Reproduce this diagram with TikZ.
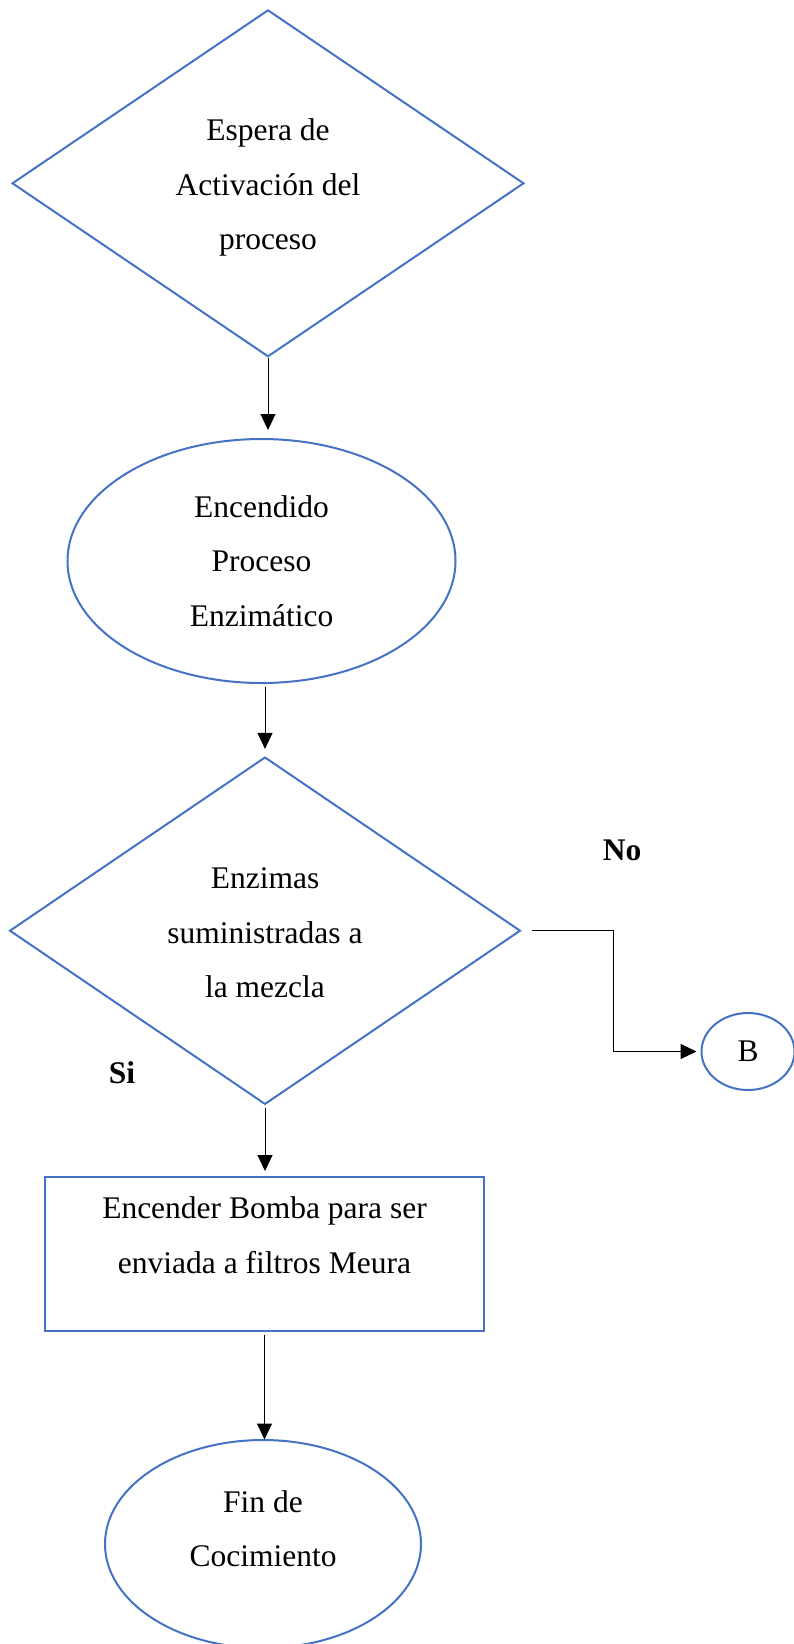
\documentclass[tikz,border=0pt]{standalone}
\usepackage{fontspec}
\setmainfont{Liberation Serif}
\usetikzlibrary{shapes.geometric,arrows.meta}
\definecolor{wordblue}{HTML}{4472C4}
\begin{document}
\begin{tikzpicture}[x=1pt,y=-1pt,
  shapeline/.style={draw=wordblue,line width=2pt,inner sep=0pt,outer sep=0pt,
    font=\fontsize{31.5}{54.5}\selectfont,align=center},
  txt/.style={font=\fontsize{31.5}{54.5}\selectfont,align=center,inner sep=0pt},
  lbl/.style={font=\fontsize{31.5}{38}\selectfont\bfseries,anchor=base,inner sep=0pt},
  arr/.style={draw=black,line width=1pt,-{Triangle[length=16pt,width=15pt]}}]
\useasboundingbox (0,0) rectangle (793,1644);

% shapes
\node[shapeline,diamond,minimum width=511pt,minimum height=346pt] (d1) at (268,183.3) {};
\node[txt] (d1t) at (268,187.5) {Espera de\\Activación del\\proceso};
\node[shapeline,ellipse,minimum width=388pt,minimum height=244pt] (e1) at (261.5,561)
  {Encendido\\Proceso\\Enzimático};
\node[shapeline,diamond,minimum width=510pt,minimum height=346.5pt] (d2) at (265,930.7) {};
\node[txt] (d2t) at (265,933) {Enzimas\\suministradas a\\la mezcla};
\node[shapeline,rectangle,minimum width=439pt,minimum height=154pt] (r) at (264.5,1253.5) {};
\node[txt] (rt) at (264.5,1235) {Encender Bomba para ser\\enviada a filtros Meura};
\node[shapeline,ellipse,minimum width=316pt,minimum height=208pt] (e2) at (263,1544) {};
\node[txt] (e2t) at (263,1528.5) {Fin de\\Cocimiento};
\node[shapeline,ellipse,minimum width=93pt,minimum height=77pt] (B) at (748,1051.5) {B};

% labels
\node[lbl] (no) at (622,860.7) {No};
\node[lbl] (si) at (122,1083.3) {Si};

% connectors
\draw[arr,shorten <=1.5pt,shorten >=9pt] (d1.south) -- (d1.south |- e1.north);
\draw[arr,shorten <=4pt,shorten >=8.5pt] (d2.north |- e1.south) -- (d2.north);
\draw[arr,shorten <=4pt,shorten >=5.5pt] (d2.south) -- (d2.south |- r.north);
\draw[arr,shorten <=4.5pt,shorten >=0.5pt] (r.south) -- (r.south |- e2.north);
\coordinate (nob) at (613,930.7);
\draw[arr,shorten >=5pt] ([xshift=12pt]d2.east) -| (nob |- B.west) -- (B.west);
\end{tikzpicture}
\end{document}
